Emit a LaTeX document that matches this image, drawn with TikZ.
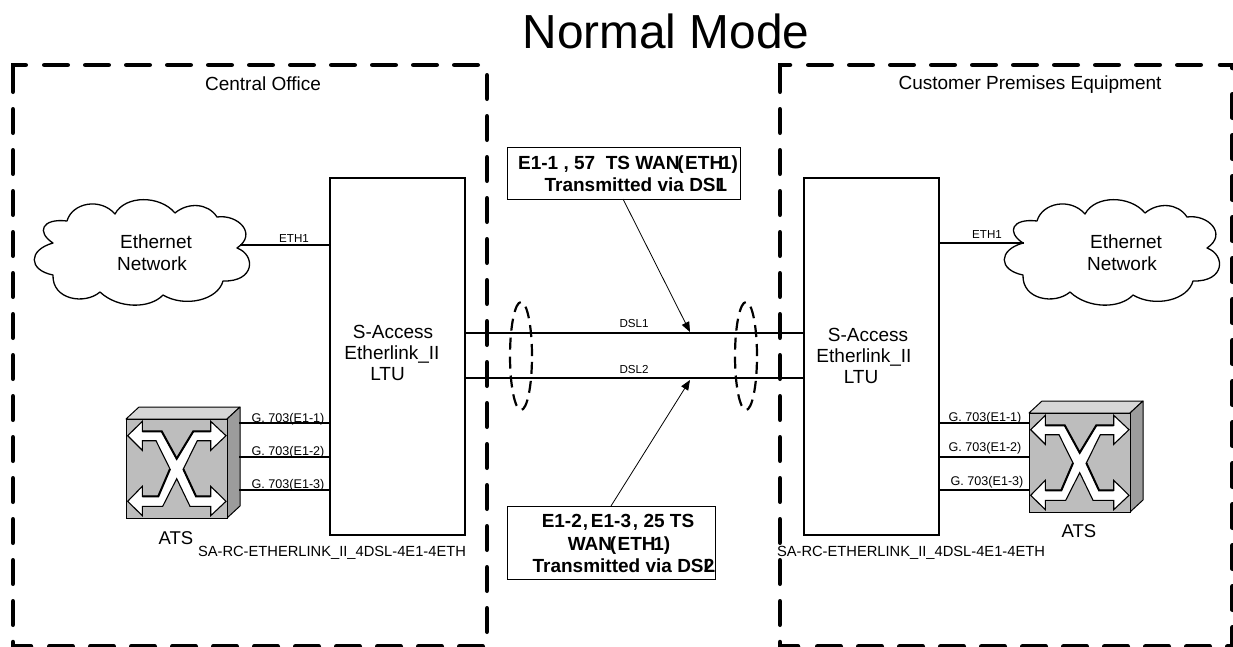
\documentclass[tikz,border=0pt]{standalone}
\usepackage{fontspec}
\setmainfont{Liberation Sans}
\usetikzlibrary{arrows.meta,calc,shapes.geometric}
\definecolor{atsfront}{HTML}{BDBDBD}
\definecolor{atstop}{HTML}{D6D6D6}
\definecolor{atsside}{HTML}{9C9C9C}
\tikzset{
  lab/.style={anchor=base,inner sep=0pt,outer sep=0pt,font=\fontsize{#1}{#1}\selectfont},
  blab/.style={anchor=base,inner sep=0pt,outer sep=0pt,font=\fontsize{#1}{#1}\selectfont\bfseries},
  heavy/.style={line width=4.5pt,line cap=round,dash pattern=on 23.5pt off 17.5pt},
  corner/.style={line width=4.5pt,line cap=round,miter limit=4},
  ltubox/.style={draw,line width=1.7pt,minimum width=135pt,minimum height=357pt,inner sep=0pt},
  wire/.style={line width=1.7pt},
  dslwire/.style={line width=2pt},
  notebox/.style={draw,line width=1.1pt,inner sep=0pt,fill=white},
  pointer/.style={line width=.8pt,-{Triangle[length=10pt,width=8pt]}},
  oval/.style={draw,line width=2.2pt,dash pattern=on 12pt off 7pt,inner sep=0pt,minimum width=22pt,minimum height=108pt,ellipse},
  cloudline/.style={line width=1.3pt,fill=white,line join=round},
  shade/.style={line width=2pt},
}
\newcommand{\cloudat}[1]{%
  \begin{scope}[shift={(#1,0)}]
  \draw[cloudline] (67,221) .. controls (72,203) and (100,197) .. (115,214)
    .. controls (125,195) and (160,195) .. (175,213)
    .. controls (188,202) and (208,203) .. (217,217)
    .. controls (238,214) and (258,234) .. (237,248)
    .. controls (256,255) and (255,282) .. (223,281)
    .. controls (218,300) and (185,308) .. (163,295)
    .. controls (150,309) and (118,309) .. (100,292)
    .. controls (85,305) and (52,300) .. (53,275)
    .. controls (28,270) and (28,250) .. (53,243)
    .. controls (36,232) and (42,218) .. (67,221) -- cycle;
  \end{scope}}
\newcommand{\atsat}[3]{%
  \begin{scope}[shift={(#2,#3)}]
  \draw[line width=1pt,fill=atstop,line join=round] (0,0) -- (13,-12) -- (114,-12) -- (101,0) -- cycle;
  \draw[line width=1pt,fill=atsside,line join=round] (101,0) -- (114,-12) -- (114,87) -- (101,99) -- cycle;
  \node[draw,line width=1.2pt,fill=atsfront,anchor=north west,minimum width=101pt,minimum height=99pt,inner sep=0pt] (#1) at (0,0) {};
  \draw[line width=1.1pt,fill=white,line join=miter]
    (1.7,16.7) -- (16.3,2.3) -- (16.3,12.3) -- (35.7,12.3) -- (50.7,39.7) -- (67.3,12.3) -- (84.7,12.3)
    -- (84.7,2.3) -- (100,16.7) -- (84.7,31.3) -- (84.7,21.7) -- (71.3,21.7) -- (57.3,50) -- (70,77.3)
    -- (84.7,77.3) -- (84.7,67.3) -- (100,82.3) -- (84.7,96.7) -- (84.7,87.3) -- (64,87.3) -- (50.7,59.7)
    -- (36.7,87.3) -- (16.3,87.3) -- (16.3,96.7) -- (1.7,82.3) -- (16.3,67.3) -- (16.3,77.3) -- (32.3,77.3)
    -- (44,50) -- (30,21.7) -- (16.3,21.7) -- (16.3,31.3) -- cycle;
  \draw[shade] (16.3,12.3) -- (35.7,12.3) -- (50.7,39.7) -- (67.3,12.3) -- (84.7,12.3);
  \draw[shade] (16.3,77.3) -- (32.3,77.3) -- (44,50);
  \draw[shade] (57.3,50) -- (70,77.3) -- (84.7,77.3);
  \end{scope}}
\begin{document}
\begin{tikzpicture}[x=1pt,y=-1pt]
\useasboundingbox (0,0) rectangle (1233,646);
\clip (0,0) rectangle (1233,646);

% heavy dashed frames
\draw[corner] (25.75,65) -- (13,65) -- (13,91.75);
\draw[heavy] (44.25,65) -- (486,65);
\draw[heavy] (13,109.25) -- (13,630);
\draw[heavy] (487,75.25) -- (487,650);
\draw[corner] (13,642) -- (13,646.5) -- (31,646.5);
\draw[heavy] (49.25,646.5) -- (487,646.5);
\draw[corner] (790,65) -- (780,65) -- (780,91.75);
\draw[heavy] (808.25,65) -- (1216,65);
\draw[corner] (1220,65) -- (1232.5,65) -- (1232.5,68);
\draw[heavy] (1232.5,94.25) -- (1232.5,650);
\draw[heavy] (780,109.25) -- (780,630);
\draw[corner] (780,642) -- (780,646.5) -- (798,646.5);
\draw[heavy] (817.25,646.5) -- (1233,646.5);

% title and region labels
\node[lab=47.8] (title) at (666,48) {Normal Mode};
\node[lab=19] (co) at (263,90) {Central Office};
\node[lab=19] (cpe) at (1030,89) {Customer Premises Equipment};

% LTU boxes
\node[ltubox,anchor=north west] (ltuL) at (329,177) {};
\node[ltubox,anchor=north west] (ltuR) at (803,177) {};
\node[lab=19] (ltuLa) at (393,338) {S-Access};
\node[lab=19] (ltuLb) at (392,359) {Etherlink\_II};
\node[lab=19] (ltuLc) at (387.5,380) {LTU};
\node[lab=19] (ltuRa) at (868,341) {S-Access};
\node[lab=19] (ltuRb) at (864,362) {Etherlink\_II};
\node[lab=19] (ltuRc) at (861,383) {LTU};
\node[lab=14.7,anchor=base west] (saL) at (198,556) {SA-RC-ETHERLINK\_II\_4DSL-4E1-4ETH};
\node[lab=14.7,anchor=base west] (saR) at (777,556) {SA-RC-ETHERLINK\_II\_4DSL-4E1-4ETH};

% clouds
\cloudat{0}
\cloudat{970}
\node[lab=19] (ethL) at (156,248) {Ethernet};
\node[lab=19] (netL) at (152,270) {Network};
\node[lab=19] (ethR) at (1126,248) {Ethernet};
\node[lab=19] (netR) at (1122,270) {Network};
\coordinate (cloudLport) at (240,245);
\coordinate (cloudRport) at (1024,243);
\draw[wire] (cloudLport) -- (cloudLport -| ltuL.west);
\draw[wire] (cloudRport) -- (cloudRport -| ltuR.east);
\node[lab=11.6] (ethlabL) at (294,242) {ETH1};
\node[lab=11.6] (ethlabR) at (987,238) {ETH1};

% ATS units
\atsat{atsL}{126}{419}
\atsat{atsR}{1029}{413}
\node[lab=18.5] (atsLt) at (176,544) {ATS};
\node[lab=18.5] (atsRt) at (1079,537) {ATS};
\coordinate (aL1) at (239,423);
\coordinate (aL2) at (239,457);
\coordinate (aL3) at (239,490);
\coordinate (aR1) at (1029,423);
\coordinate (aR2) at (1029,457);
\coordinate (aR3) at (1029,490);
\foreach \n in {1,2,3} {
  \draw[wire] (aL\n) -- (aL\n -| ltuL.west);
  \draw[wire] (aR\n) -- (aR\n -| ltuR.east);
}
\node[lab=12.6] (gL1) at (288,422) {G. 703(E1-1)};
\node[lab=12.6] (gL2) at (288,455) {G. 703(E1-2)};
\node[lab=12.6] (gL3) at (288,488) {G. 703(E1-3)};
\node[lab=12.6] (gR1) at (985,421) {G. 703(E1-1)};
\node[lab=12.6] (gR2) at (985,451) {G. 703(E1-2)};
\node[lab=12.6] (gR3) at (987,485) {G. 703(E1-3)};

% DSL lines
\coordinate (dsl1) at (464,333);
\coordinate (dsl2) at (464,378);
\draw[dslwire] (dsl1) -- (dsl1 -| ltuR.west);
\draw[dslwire] (dsl2) -- (dsl2 -| ltuR.west);
\node[lab=11.6] (dsl1t) at (634,327) {DSL1};
\node[lab=11.6] (dsl2t) at (634,373) {DSL2};
\node[oval] (ovalL) at (521,356) {};
\node[oval] (ovalR) at (746,356) {};

% note boxes
\node[notebox,anchor=north west,minimum width=233pt,minimum height=52pt] (noteA) at (507,147) {};
\node[blab=19] (noteAa) at (628,169) {E1-1 , 57\ \ TS WAN\kern-.12em(\kern.08em ETH\kern-.12em 1)};
\node[blab=19] (noteAb) at (636,191) {Transmitted via DSL\kern-.6em 1\kern.05em};
\node[notebox,anchor=north west,minimum width=208pt,minimum height=73pt] (noteB) at (507,506) {};
\node[blab=19] (noteBa) at (618,527) {E1-2\kern.05em,\kern.15em E1-3\kern.1em, 25 TS};
\node[blab=19] (noteBb) at (619,550) {WAN\kern-.12em(\kern.08em ETH\kern-.12em 1)};
\node[blab=19] (noteBc) at (624,572) {Transmitted via DSL\kern-.6em 2\kern.05em};
\coordinate (ptA) at (690,332);
\coordinate (ptB) at (690,380);
\draw[pointer] (623,199) -- (ptA);
\draw[pointer] (611,506) -- (ptB);
\end{tikzpicture}
\end{document}
